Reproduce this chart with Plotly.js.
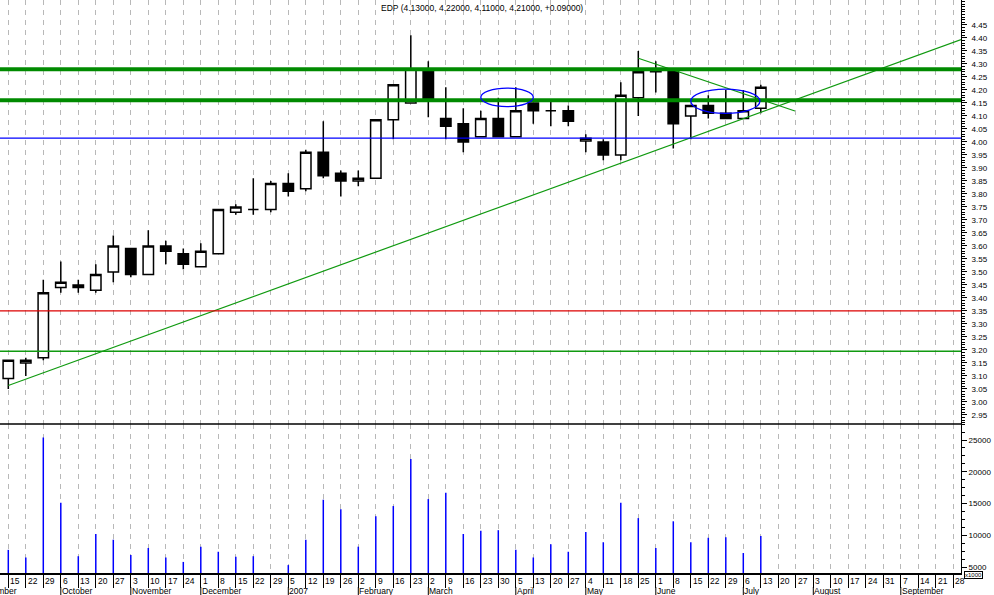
<!DOCTYPE html>
<html><head><meta charset="utf-8">
<script src="https://cdn.plot.ly/plotly-3.0.1.min.js"></script>
<style>html,body{margin:0;padding:0;background:#fff;}#chart{width:994px;height:595px;}</style>
</head><body><div id="chart"></div>
<script>
// ---- data ----
const weekIdx = [0,1,2,3,4,5,6,7,8,9,10,11,12,13,14,15,16,17,18,19,20,21,22,23,24,25,26,27,28,29,30,31,32,33,34,35,36,37,38,39,40,41,42,43];
const openP  = [3.09,3.15,3.17,3.44,3.45,3.43,3.50,3.59,3.49,3.60,3.57,3.52,3.57,3.73,3.74,3.74,3.84,3.82,3.96,3.88,3.85,3.86,4.085,4.15,4.28,4.09,4.07,4.02,4.09,4.02,4.15,4.12,4.12,4.004,4.00,3.95,4.17,4.27,4.27,4.10,4.14,4.11,4.09,4.13];
const highP  = [3.16,3.17,3.47,3.54,3.47,3.53,3.64,3.59,3.66,3.62,3.59,3.61,3.74,3.76,3.86,3.85,3.88,3.97,4.08,3.89,3.89,4.085,4.22,4.41,4.31,4.21,4.13,4.12,4.17,4.21,4.15,4.155,4.14,4.03,4.01,4.23,4.35,4.31,4.27,4.14,4.18,4.20,4.20,4.22];
const lowP   = [3.05,3.10,3.16,3.42,3.42,3.42,3.46,3.48,3.49,3.53,3.51,3.52,3.57,3.72,3.72,3.73,3.79,3.81,3.86,3.79,3.83,3.86,4.01,4.15,4.095,4.01,3.96,4.02,4.02,4.02,4.07,4.06,4.06,3.96,3.93,3.93,4.10,4.19,3.975,4.01,4.09,4.09,4.09,4.11];
const closeP = [3.16,3.16,3.42,3.46,3.44,3.49,3.60,3.49,3.60,3.58,3.53,3.58,3.74,3.75,3.74,3.84,3.81,3.96,3.87,3.85,3.86,4.085,4.22,4.28,4.165,4.06,4.00,4.09,4.02,4.12,4.12,4.12,4.08,4.014,3.95,4.18,4.27,4.28,4.07,4.14,4.11,4.09,4.12,4.21];
const volume = [7700,6500,25400,15100,6700,10200,9300,6900,8000,6500,5800,8200,7400,6600,6700,null,5300,9300,15600,14100,8200,13000,14600,22000,15700,16700,10200,10700,10800,7700,6500,8600,7400,10500,8900,15100,12700,8000,12200,8900,9600,9700,7200,9900];

const labelIdx = [0,1,2,3,4,5,6,7,8,9,10,11,12,13,14,15,16,17,18,19,20,21,22,23,24,25,26,27,28,29,30,31,32,33,34,35,36,37,38,39,40,41,42,43,44,45,46,47,48,49,50,51,52,53,54];
const dayLabels = ['15','22','29','6','13','20','27','3','10','17','24','1','8','15','22','29','5','12','19','26','2','9','16','23','2','9','16','23','30','5','13','20','27','4','11','18','25','1','8','15','22','29','6','13','20','27','3','10','17','24','31','7','14','21','28'];
const monthIdx = [3,7,11,16,20,24,29,33,37,42,46,51];
const monthNames = ['October','November','December','2007','February','March','April','May','June','July','August','September'];

const priceTicks = [2.95,3.00,3.05,3.10,3.15,3.20,3.25,3.30,3.35,3.40,3.45,3.50,3.55,3.60,3.65,3.70,3.75,3.80,3.85,3.90,3.95,4.00,4.05,4.10,4.15,4.20,4.25,4.30,4.35,4.40,4.45];
const volTicks = [5000,10000,15000,20000,25000];

const thickLevels = [4.28, 4.16];
const blueLevel = 4.015;
const redLevel = 3.35;
const greenLevel = 3.195;
const trendUpX = [0, 54.44];
const trendUpY = [3.063, 4.394];
const trendDownX = [36, 44.95];
const trendDownY = [4.322, 4.119];
const ellipseX = [[27.0, 30.0],[39.0, 42.95]];
const ellipseY = [[4.136, 4.207],[4.110, 4.203]];

const titleText = 'EDP (4.13000, 4.22000, 4.11000, 4.21000, +0.09000)';

// ---- traces ----
const traces = [
  {type:'candlestick', x: weekIdx, open: openP, high: highP, low: lowP, close: closeP,
   xaxis:'x', yaxis:'y', whiskerwidth:0, hoverinfo:'skip',
   increasing:{line:{color:'#000', width:1.5}, fillcolor:'#ffffff'},
   decreasing:{line:{color:'#000', width:1.5}, fillcolor:'#000000'}},
  {type:'scatter', mode:'lines', x: trendUpX, y: trendUpY, xaxis:'x', yaxis:'y',
   line:{color:'#109a10', width:1.2}, hoverinfo:'skip'},
  {type:'scatter', mode:'lines', x: trendDownX, y: trendDownY, xaxis:'x', yaxis:'y',
   line:{color:'#109a10', width:1.2}, hoverinfo:'skip'},
  {type:'bar', x: weekIdx, y: volume, xaxis:'x', yaxis:'y2', width:0.085,
   marker:{color:'#0000ff', line:{width:0}}, hoverinfo:'skip'}
];

// ---- shapes ----
const shapes = [];
thickLevels.forEach(v => shapes.push({type:'line', xref:'paper', x0:0, x1:1, yref:'y', y0:v, y1:v, line:{color:'#008a00', width:4}, layer:'above'}));
shapes.push({type:'line', xref:'paper', x0:0, x1:1, yref:'y', y0:blueLevel, y1:blueLevel, line:{color:'#0000ff', width:1.3}, layer:'above'});
shapes.push({type:'line', xref:'paper', x0:0, x1:1, yref:'y', y0:redLevel, y1:redLevel, line:{color:'#dd0000', width:1.3}, layer:'above'});
shapes.push({type:'line', xref:'paper', x0:0, x1:1, yref:'y', y0:greenLevel, y1:greenLevel, line:{color:'#109a10', width:1.3}, layer:'above'});
ellipseX.forEach((ex, k) => shapes.push({type:'circle', xref:'x', yref:'y', x0:ex[0], x1:ex[1], y0:ellipseY[k][0], y1:ellipseY[k][1], line:{color:'#0000ff', width:1.3}, layer:'above'}));
// panel separator
shapes.push({type:'line', xref:'paper', x0:0, x1:1, yref:'paper', y0:0.26, y1:0.26, line:{color:'#000', width:1.5}, layer:'above'});
// month separators in the label strip
monthIdx.forEach(m => shapes.push({type:'line', xref:'x', x0:m, x1:m, yref:'paper', ysizemode:'pixel', yanchor:0, y0:-14, y1:-23, line:{color:'#000', width:1}}));

// ---- annotations ----
const annotations = [];
labelIdx.forEach((i, k) => annotations.push({x:i, xref:'x', y:0, yref:'paper', xanchor:'left', yanchor:'top', yshift:-1, xshift:0, text:dayLabels[k], showarrow:false, font:{size:8.5, color:'#000'}}));
monthIdx.forEach((m, k) => annotations.push({x:m, xref:'x', y:0, yref:'paper', xanchor:'left', yanchor:'top', yshift:-12, xshift:0, borderpad:0, text:monthNames[k], showarrow:false, font:{size:8.5, color:'#000'}}));
annotations.push({x:0, xref:'paper', y:0, yref:'paper', xanchor:'right', yanchor:'top', xshift:18, yshift:-12, borderpad:0, text:'September', showarrow:false, font:{size:8.5, color:'#000'}});
annotations.push({x:1, xref:'paper', y:0, yref:'paper', xanchor:'left', yanchor:'bottom', xshift:3, yshift:-6, text:'x1000', showarrow:false, bordercolor:'#000', borderwidth:1, borderpad:0, bgcolor:'#fff', font:{size:6, color:'#000'}});

const layout = {
  width:994, height:595,
  margin:{l:0, r:33, t:0, b:22, pad:0},
  paper_bgcolor:'#ffffff', plot_bgcolor:'#ffffff',
  showlegend:false, boxgap:0.15,
  font:{family:'Liberation Sans, Arial, sans-serif', size:9, color:'#000'},
  title:{text:titleText, x:0.485, xanchor:'center', y:1-8/595, yanchor:'middle', font:{size:8.5, color:'#000'}},
  xaxis:{range:[-0.474, 54.44], anchor:'y2', tickmode:'array', tickvals:labelIdx, ticks:'outside', ticklen:13,
         tickcolor:'#000', tickwidth:1, showticklabels:false, showgrid:true, gridcolor:'#b8b8b8', griddash:'5px,5px',
         gridwidth:1, zeroline:false, showline:true, linecolor:'#000', linewidth:1.5, rangeslider:{visible:false}, fixedrange:true},
  yaxis:{domain:[0.26,1], anchor:'x', side:'right', range:[2.915, 4.546], tickmode:'array', tickvals:priceTicks,
         ticktext:priceTicks.map(v=>v.toFixed(2)), ticks:'outside', ticklen:5, tickcolor:'#000', showgrid:false,
         zeroline:false, showline:true, linecolor:'#000', linewidth:1, ticklabelstandoff:3, tickfont:{size:8},
         minor:{dtick:0.01, tick0:0, ticks:'outside', ticklen:3, tickcolor:'#000', showgrid:false}, fixedrange:true},
  yaxis2:{domain:[0,0.26], anchor:'x', side:'right', range:[4055, 27520], tickmode:'array', tickvals:volTicks,
          ticktext:volTicks.map(String), ticks:'outside', ticklen:5, tickcolor:'#000', showgrid:false, zeroline:false,
          showline:true, linecolor:'#000', linewidth:1, ticklabelstandoff:0, tickfont:{size:8},
          minor:{dtick:1250, tick0:0, ticks:'outside', ticklen:3, tickcolor:'#000', showgrid:false}, fixedrange:true},
  shapes:shapes, annotations:annotations
};

Plotly.newPlot('chart', traces, layout, {displayModeBar:false, staticPlot:true});
</script>
</body></html>
